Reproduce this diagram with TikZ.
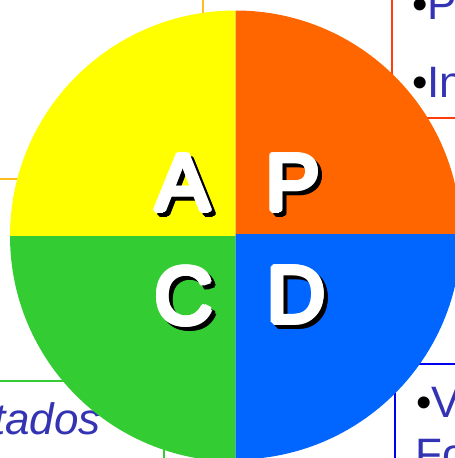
\documentclass[tikz,border=0pt]{standalone}
\usepackage{fontspec}
\setmainfont{Liberation Sans}
\definecolor{cyel}{RGB}{255,255,0}
\definecolor{corg}{RGB}{255,102,0}
\definecolor{cgrn}{RGB}{51,204,51}
\definecolor{cblu}{RGB}{0,102,255}
\definecolor{ctxt}{RGB}{51,51,180}
\definecolor{lorg}{RGB}{255,60,10}
\definecolor{lyel}{RGB}{255,190,30}
\definecolor{lblu}{RGB}{0,0,240}
\newcommand{\biglet}[4]{%
  \foreach \a in {0,30,...,330}{
    \node[letter,text=black] at ([shift={(\a:2.5)}]#2+4,#3+4) {#4};}
  \foreach \a in {0,30,...,330}{
    \node[letter,text=white] at ([shift={(\a:2.5)}]#2,#3) {#4};}
  \node[letter,text=white] (#1) at (#2,#3) {#4};}
\begin{document}
\begin{tikzpicture}[x=1pt,y=-1pt,
  letter/.style={font=\fontsize{81}{81}\selectfont,inner sep=0pt,anchor=base},
  listtext/.style={font=\fontsize{44}{44}\selectfont,text=ctxt,inner sep=0pt,anchor=base west},
  dot/.style={font=\fontsize{44}{44}\selectfont,text=black,inner sep=0pt,anchor=base west},
  frameline/.style={line width=1.3pt}]
\useasboundingbox (0,0) rectangle (455,458);
\clip (0,0) rectangle (455,458);
% frames behind the circle
\coordinate (o1) at (392,0); \coordinate (o2) at (392,118); \coordinate (o3) at (455,118);
\draw[frameline,lorg] (o1) -- (o2) -- (o3);
\coordinate (y1) at (203,0); \coordinate (y2) at (203,179); \coordinate (y3) at (0,179);
\draw[frameline,lyel] (y1) -- (y2) -- (y3);
\coordinate (g1) at (0,381); \coordinate (g2) at (164,381); \coordinate (g3) at (164,458);
\draw[frameline,cgrn] (g1) -- (g2) -- (g3);
\coordinate (b1) at (455,364); \coordinate (b2) at (395,364); \coordinate (b3) at (395,458);
\draw[frameline,lblu] (b1) -- (b2) -- (b3);
% texts
\node[dot] (d1) at (412,19) {•};
\node[listtext] (t1) at (427.4,19) {P};
\node[dot] (d2) at (412,97) {•};
\node[listtext] (t2) at (427.4,97) {In};
\node[dot] (d3) at (416,417) {•};
\node[listtext] (t3) at (431,417) {V};
\node[listtext] (t4) at (415,469) {Fo};
\node[font=\fontsize{44}{44}\selectfont\itshape,text=ctxt,inner sep=0pt,anchor=base east] (t5) at (101,434.5) {tados};
% quadrants
\fill[cyel] (235.5,236) -- (10,236) arc[start angle=180,end angle=90,x radius=225.5,y radius=-225.5] -- cycle;
\fill[corg] (235.5,234) -- (235.5,10.5) arc[start angle=90,end angle=0,x radius=225.5,y radius=-225.5] -- (461,234) -- cycle;
\fill[cgrn] (235.5,236) -- (10,236) arc[start angle=180,end angle=270,x radius=225.5,y radius=-225.5] -- cycle;
\fill[cblu] (235.5,234) -- (461,234) arc[start angle=0,end angle=-90,x radius=225.5,y radius=-225.5] -- cycle;
% letters
\biglet{la}{183}{210.5}{A}
\biglet{lp}{293}{210.5}{P}
\biglet{lc}{184}{324}{C}
\biglet{ld}{296.5}{322.5}{D}
\end{tikzpicture}
\end{document}
